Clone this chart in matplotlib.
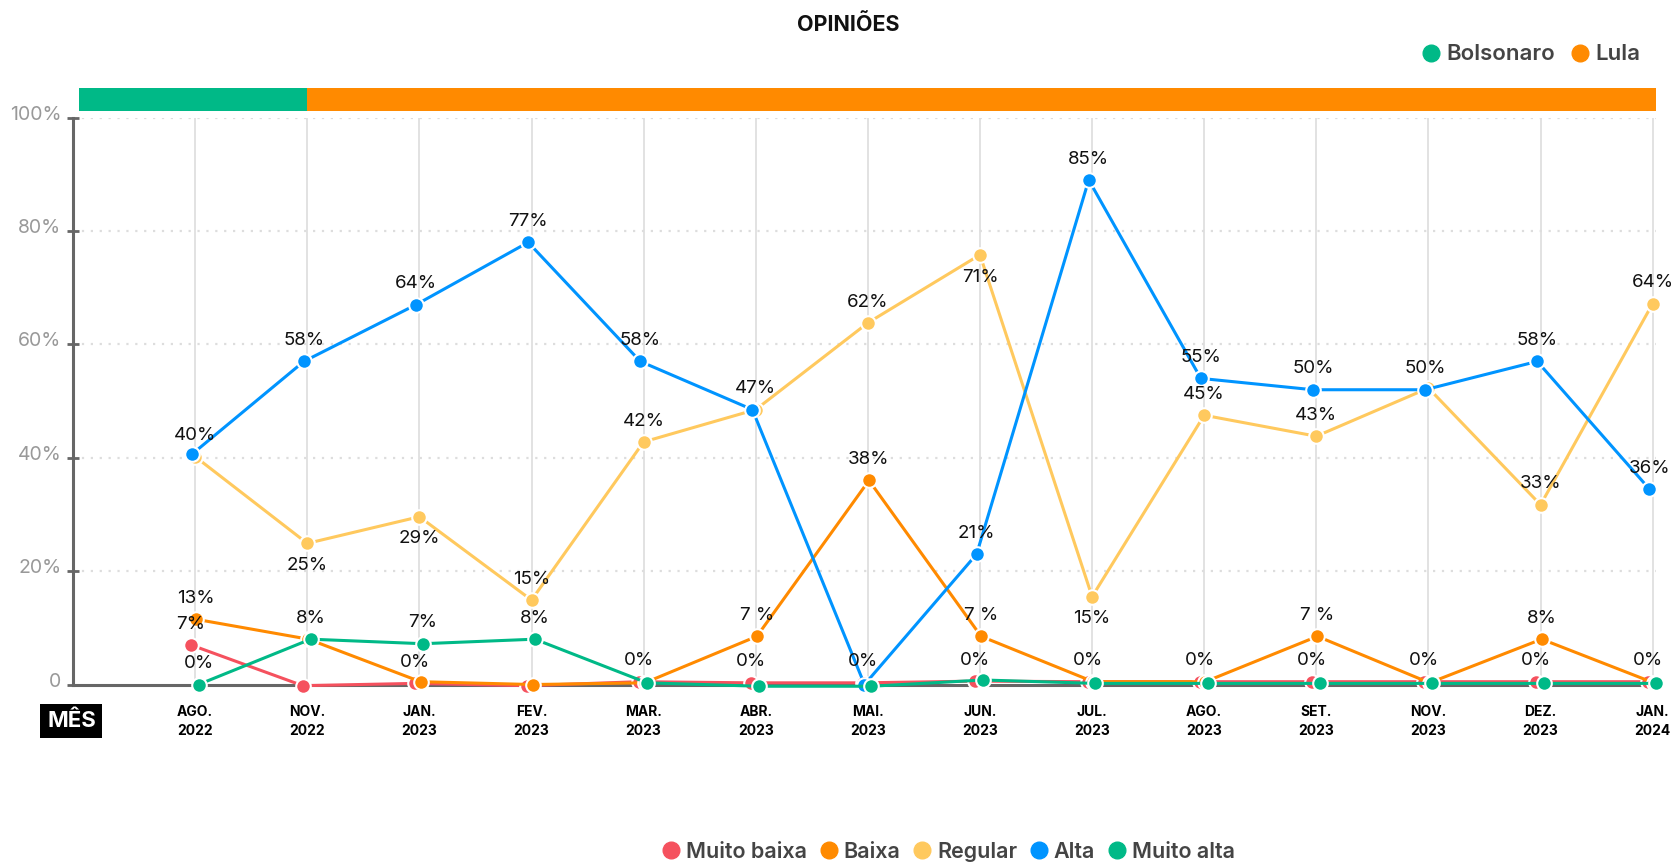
import matplotlib.pyplot as plt
from matplotlib.lines import Line2D
import matplotlib.transforms as mtransforms

plt.rcParams['font.family'] = ['Inter', 'DejaVu Sans']

# meses da pesquisa
meses = ['AGO.\n2022', 'NOV.\n2022', 'JAN.\n2023', 'FEV.\n2023', 'MAR.\n2023', 'ABR.\n2023',
         'MAI.\n2023', 'JUN.\n2023', 'JUL.\n2023', 'AGO.\n2023', 'SET.\n2023', 'NOV.\n2023',
         'DEZ.\n2023', 'JAN.\n2024']

# valores (%)
muito_baixa = [7, -0.2, 0.2, -0.2, 0.5, 0.3, 0.3, 0.6, 0.5, 0.5, 0.5, 0.5, 0.5, 0.5]
baixa = [11.5, 8, 0.5, 0, 0.3, 8.5, 36, 8.5, 0.5, 0.5, 8.5, 0.3, 8, 0.3]
regular = [40.2, 24.9, 29.6, 14.9, 42.8, 48.5, 63.8, 75.8, 15.5, 47.5, 43.8, 52.3, 31.7, 67.2]
alta = [40.6, 57, 67, 78, 57, 48.5, 0, 23, 89, 54, 52, 52, 57, 34.5]
muito_alta = [0, 8, 7.2, 8, 0.3, -0.3, -0.3, 0.8, 0.2, 0.2, 0.2, 0.2, 0.2, 0.2]

# rótulos exibidos
rot_muito_baixa = ['7%', '0%', '0%', '0%', '0%', '0%', '0%', '0%', '0%', '0%', '0%', '0%', '0%', '0%']
rot_baixa = ['13%', '', '', '', '', '7 %', '38%', '7 %', '', '', '7 %', '', '8%', '']
rot_regular = ['40%', '25%', '29%', '15%', '42%', '47%', '62%', '71%', '15%', '45%', '43%', '', '33%', '64%']
rot_alta = ['', '58%', '64%', '77%', '58%', '', '', '21%', '85%', '55%', '50%', '50%', '58%', '36%']
rot_muito_alta = ['0%', '8%', '7%', '8%', '', '', '', '', '', '', '', '', '', '']
abaixo_regular = [1, 2, 7, 8]

# governo: até NOV. 2022 Bolsonaro, depois Lula
governos = ['Bolsonaro', 'Lula']
fim_governo = [1, 13.03]

cor_gov = {'Bolsonaro': '#00B987', 'Lula': '#FF8A00'}

series = [
    ('Muito baixa', muito_baixa, rot_muito_baixa, '#F5515E', -0.04, []),
    ('Baixa', baixa, rot_baixa, '#FF8A00', 0.01, []),
    ('Regular', regular, rot_regular, '#FFC95E', 0.0, abaixo_regular),
    ('Alta', alta, rot_alta, '#0094FF', -0.03, []),
    ('Muito alta', muito_alta, rot_muito_alta, '#00B987', 0.03, []),
]

fig = plt.figure(figsize=(16.77, 8.63), dpi=100)
ax = fig.add_axes([0.0435, 0.2068, 0.944, 0.6569])
x0 = -1.09
ax.set_xlim(x0, 13.03)
ax.set_ylim(0, 100)

# grade
for i in range(len(meses)):
    ax.plot([i, i], [0, 100], color='#dddddd', lw=1.2, zorder=0)
for yv in [20, 40, 60, 80, 100]:
    ax.axhline(yv, color='#dddddd', lw=1.6, ls=(0, (1, 3)), zorder=0)
ax.axhline(0, color='#666666', lw=2.2, zorder=1, clip_on=False)

# faixa de governo
ini = x0 + 0.05
for g, f in zip(governos, fim_governo):
    ax.fill_between([ini, f], 101.2, 105.3, color=cor_gov[g], lw=0, clip_on=False)
    ini = f

xs = list(range(len(meses)))
for z, (nome, vals, rots, cor, dx, abaixo) in enumerate(series):
    px = [x + dx for x in xs]
    ax.plot(px, vals, color=cor, lw=2.2, marker='o', ms=10.5, mfc=cor, mec='white', mew=1.5,
            zorder=3 + z, clip_on=False)
    for i, t in enumerate(rots):
        if t:
            off = -16 if i in abaixo else 15
            ax.annotate(t, (px[i], vals[i]), xytext=(0, off), textcoords='offset points',
                        ha='center', va='center', fontsize=13.5, color='#111111', zorder=10)

# eixos
for s in ['top', 'right', 'bottom']:
    ax.spines[s].set_visible(False)
ax.spines['left'].set_color('#666666')
ax.spines['left'].set_linewidth(2.2)
ax.set_yticks([0, 20, 40, 60, 80, 100])
ax.set_yticklabels(['0', '20%', '40%', '60%', '80%', '100%'])
ax.tick_params(axis='y', direction='inout', length=9, width=2, color='#666666',
               labelcolor='#999999', labelsize=14, pad=4)
off = mtransforms.ScaledTranslation(0, 5 / 100, fig.dpi_scale_trans)
for lab in ax.get_yticklabels():
    lab.set_transform(lab.get_transform() + off)
ax.set_xticks(xs)
ax.set_xticklabels(meses, fontsize=10, fontweight='bold', linespacing=1.4)
ax.tick_params(axis='x', length=0, pad=15)

fig.text(0.0426, 0.1645, 'MÊS', color='white', fontsize=16, fontweight='bold', ha='center', va='center',
         bbox=dict(facecolor='black', edgecolor='none', boxstyle='square,pad=0.3'))

fig.text(0.506, 0.971, 'OPINIÕES', ha='center', va='center', fontsize=15.5, fontweight='bold', color='#111111')

# legendas
h_gov = [Line2D([], [], ls='', marker='o', ms=12, color=cor_gov[g]) for g in governos]
fig.legend(h_gov, governos, loc='center right', bbox_to_anchor=(0.99, 0.937), ncol=2, frameon=False,
           handletextpad=0.2, columnspacing=0.6, prop={'size': 16, 'weight': 'semibold'},
           labelcolor='#444444', handlelength=1)

h_ser = [Line2D([], [], ls='', marker='o', ms=12, color=s[3]) for s in series]
fig.legend(h_ser, [s[0] for s in series], loc='center', bbox_to_anchor=(0.565, 0.013), ncol=5,
           frameon=False, handletextpad=0.2, columnspacing=0.5, prop={'size': 15.5, 'weight': 'semibold'},
           labelcolor='#444444', handlelength=1)

fig.savefig('out.png', dpi=100)
